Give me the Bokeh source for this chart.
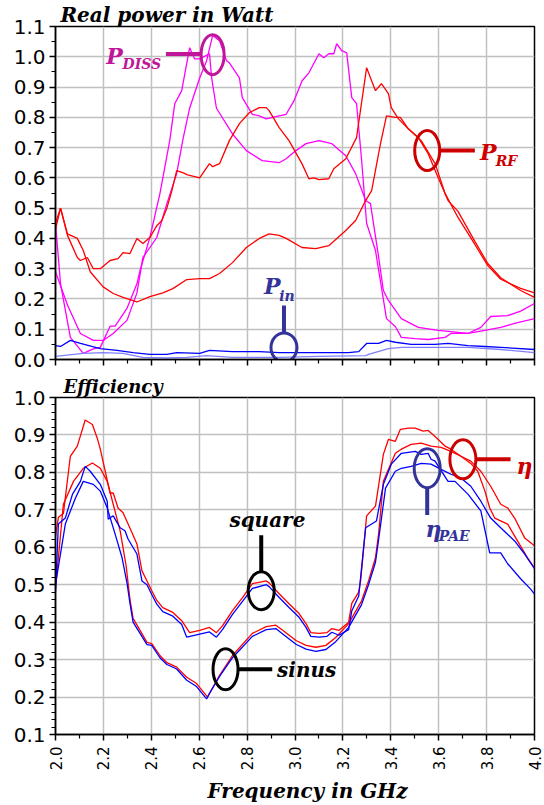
import math
from bokeh.plotting import figure
from bokeh.layouts import column
from bokeh.models import FixedTicker, Range1d, PrintfTickFormatter, Title
from bokeh.core.properties import value
from bokeh.embed import file_html
from bokeh.resources import INLINE

# ---------------- data: top panel (Real power in Watt) ----------------
pdiss_a_f = [2.000, 2.021, 2.062, 2.116, 2.158, 2.187, 2.228, 2.249, 2.299, 2.340, 2.353, 2.394, 2.436, 2.477, 2.498, 2.527, 2.560, 2.581, 2.602, 2.643, 2.652, 2.672, 2.739, 2.797, 2.863, 2.934, 2.963, 3.004, 3.046, 3.100, 3.154, 3.212, 3.253, 3.295, 3.315, 3.349, 3.369, 3.390, 3.444, 3.515, 3.598, 3.722, 3.793, 3.859, 3.917, 4.000]
pdiss_a = [0.45, 0.25, 0.073, 0.02, 0.035, 0.04, 0.11, 0.11, 0.17, 0.25, 0.294, 0.403, 0.548, 0.723, 0.845, 0.888, 1.03, 0.993, 0.993, 1.01, 0.93, 0.83, 0.745, 0.69, 0.657, 0.65, 0.663, 0.69, 0.713, 0.723, 0.713, 0.673, 0.614, 0.525, 0.515, 0.34, 0.228, 0.195, 0.135, 0.106, 0.096, 0.086, 0.096, 0.106, 0.119, 0.135]

pdiss_b_f = [2.000, 2.050, 2.104, 2.158, 2.199, 2.241, 2.299, 2.340, 2.365, 2.423, 2.465, 2.506, 2.531, 2.560, 2.602, 2.631, 2.656, 2.685, 2.714, 2.726, 2.768, 2.780, 2.822, 2.851, 2.880, 2.934, 2.963, 2.996, 3.029, 3.058, 3.100, 3.120, 3.141, 3.162, 3.174, 3.195, 3.216, 3.237, 3.257, 3.278, 3.299, 3.336, 3.382, 3.419, 3.444, 3.502, 3.556, 3.627, 3.651, 3.722, 3.776, 3.817, 3.888, 3.942, 4.000]
pdiss_b = [0.29, 0.18, 0.086, 0.063, 0.063, 0.086, 0.13, 0.22, 0.337, 0.403, 0.515, 0.614, 0.723, 0.83, 0.93, 0.987, 1.07, 1.053, 0.987, 0.98, 0.93, 0.865, 0.81, 0.805, 0.795, 0.805, 0.81, 0.855, 0.92, 0.947, 1.01, 0.997, 1.01, 1.01, 1.043, 1.02, 1.013, 0.865, 0.845, 0.66, 0.45, 0.36, 0.135, 0.109, 0.073, 0.069, 0.066, 0.073, 0.086, 0.086, 0.106, 0.142, 0.145, 0.16, 0.185]

prf_c_f = [2.000, 2.021, 2.050, 2.091, 2.116, 2.145, 2.199, 2.241, 2.282, 2.340, 2.394, 2.448, 2.490, 2.548, 2.602, 2.643, 2.685, 2.739, 2.797, 2.851, 2.892, 2.934, 2.963, 3.029, 3.087, 3.141, 3.212, 3.253, 3.295, 3.320, 3.357, 3.382, 3.419, 3.440, 3.473, 3.515, 3.556, 3.598, 3.639, 3.680, 3.751, 3.805, 3.859, 3.942, 4.000]
prf_c = [0.43, 0.50, 0.415, 0.40, 0.36, 0.29, 0.24, 0.218, 0.205, 0.19, 0.208, 0.22, 0.234, 0.264, 0.267, 0.267, 0.284, 0.32, 0.37, 0.40, 0.415, 0.41, 0.40, 0.37, 0.366, 0.376, 0.426, 0.459, 0.525, 0.558, 0.713, 0.805, 0.80, 0.80, 0.762, 0.733, 0.68, 0.60, 0.525, 0.49, 0.39, 0.317, 0.27, 0.228, 0.205]

prf_d_f = [2.000, 2.021, 2.050, 2.091, 2.104, 2.133, 2.158, 2.187, 2.228, 2.261, 2.282, 2.311, 2.340, 2.365, 2.394, 2.423, 2.444, 2.465, 2.486, 2.506, 2.531, 2.552, 2.602, 2.643, 2.656, 2.685, 2.726, 2.768, 2.809, 2.851, 2.880, 2.892, 2.934, 2.975, 3.029, 3.058, 3.079, 3.100, 3.141, 3.162, 3.212, 3.257, 3.299, 3.336, 3.361, 3.390, 3.402, 3.432, 3.473, 3.527, 3.585, 3.627, 3.680, 3.751, 3.805, 3.859, 3.942, 4.000]
prf_d = [0.45, 0.50, 0.41, 0.337, 0.327, 0.337, 0.30, 0.30, 0.327, 0.333, 0.353, 0.35, 0.40, 0.383, 0.403, 0.442, 0.459, 0.50, 0.558, 0.624, 0.617, 0.61, 0.60, 0.647, 0.637, 0.647, 0.723, 0.779, 0.815, 0.832, 0.832, 0.822, 0.766, 0.723, 0.647, 0.597, 0.60, 0.594, 0.597, 0.63, 0.663, 0.733, 0.964, 0.888, 0.911, 0.878, 0.832, 0.795, 0.762, 0.723, 0.647, 0.548, 0.47, 0.38, 0.31, 0.265, 0.235, 0.22]

pin_e_f = [2.000, 2.021, 2.062, 2.104, 2.187, 2.257, 2.324, 2.394, 2.465, 2.506, 2.602, 2.643, 2.739, 2.851, 2.934, 3.029, 3.224, 3.266, 3.299, 3.349, 3.382, 3.419, 3.485, 3.585, 3.639, 3.722, 3.793, 3.859, 4.000]
pin_e = [0.046, 0.043, 0.063, 0.053, 0.036, 0.03, 0.023, 0.017, 0.017, 0.023, 0.02, 0.03, 0.026, 0.026, 0.023, 0.023, 0.023, 0.026, 0.053, 0.053, 0.063, 0.057, 0.05, 0.05, 0.053, 0.046, 0.043, 0.04, 0.033]

pin_f_f = [2.000, 2.116, 2.199, 2.282, 2.365, 2.465, 2.548, 2.631, 2.739, 2.934, 3.100, 3.295, 3.307, 3.390, 3.444, 3.585, 3.722, 3.859, 4.000]
pin_f = [0.01, 0.02, 0.023, 0.02, 0.007, 0.005, 0.007, 0.013, 0.007, 0.007, 0.01, 0.013, 0.017, 0.036, 0.04, 0.04, 0.04, 0.033, 0.023]

# ---------------- data: bottom panel (Efficiency) ----------------
eta_sq_f = [2.000, 2.012, 2.033, 2.062, 2.091, 2.124, 2.154, 2.174, 2.187, 2.228, 2.241, 2.261, 2.282, 2.320, 2.340, 2.361, 2.382, 2.402, 2.423, 2.448, 2.490, 2.527, 2.560, 2.602, 2.643, 2.672, 2.697, 2.739, 2.780, 2.822, 2.880, 2.892, 2.934, 2.975, 3.017, 3.046, 3.066, 3.100, 3.133, 3.154, 3.183, 3.224, 3.237, 3.266, 3.274, 3.299, 3.336, 3.369, 3.390, 3.419, 3.440, 3.473, 3.502, 3.535, 3.556, 3.585, 3.627, 3.651, 3.693, 3.734, 3.776, 3.817, 3.859, 3.888, 3.917, 3.959, 4.000]
eta_sq = [0.63, 0.68, 0.69, 0.843, 0.87, 0.94, 0.928, 0.892, 0.862, 0.745, 0.745, 0.705, 0.692, 0.638, 0.609, 0.537, 0.51, 0.484, 0.458, 0.439, 0.426, 0.404, 0.372, 0.378, 0.386, 0.372, 0.39, 0.431, 0.465, 0.503, 0.51, 0.505, 0.476, 0.449, 0.423, 0.396, 0.372, 0.37, 0.372, 0.383, 0.378, 0.40, 0.45, 0.48, 0.51, 0.684, 0.71, 0.848, 0.888, 0.883, 0.915, 0.918, 0.918, 0.91, 0.912, 0.896, 0.87, 0.862, 0.843, 0.83, 0.803, 0.763, 0.715, 0.705, 0.678, 0.625, 0.604]

pae_sq_f = [2.000, 2.012, 2.041, 2.071, 2.104, 2.124, 2.145, 2.187, 2.216, 2.220, 2.241, 2.270, 2.290, 2.303, 2.340, 2.361, 2.382, 2.402, 2.423, 2.448, 2.490, 2.527, 2.548, 2.602, 2.643, 2.672, 2.697, 2.739, 2.780, 2.822, 2.880, 2.892, 2.934, 2.975, 3.017, 3.046, 3.066, 3.100, 3.133, 3.154, 3.183, 3.224, 3.237, 3.266, 3.295, 3.340, 3.369, 3.402, 3.444, 3.502, 3.527, 3.556, 3.568, 3.585, 3.639, 3.668, 3.722, 3.776, 3.813, 3.859, 3.888, 3.942, 3.983, 4.000]
pae_sq = [0.48, 0.662, 0.678, 0.742, 0.776, 0.816, 0.803, 0.768, 0.723, 0.675, 0.684, 0.652, 0.644, 0.622, 0.582, 0.51, 0.50, 0.474, 0.448, 0.428, 0.416, 0.394, 0.36, 0.368, 0.374, 0.36, 0.38, 0.421, 0.455, 0.49, 0.50, 0.495, 0.466, 0.439, 0.413, 0.386, 0.362, 0.36, 0.362, 0.373, 0.365, 0.38, 0.43, 0.47, 0.652, 0.67, 0.768, 0.822, 0.851, 0.856, 0.848, 0.851, 0.835, 0.83, 0.776, 0.776, 0.742, 0.697, 0.585, 0.585, 0.556, 0.516, 0.489, 0.475]

eta_sin_f = [2.000, 2.033, 2.075, 2.116, 2.154, 2.187, 2.216, 2.241, 2.270, 2.295, 2.311, 2.324, 2.353, 2.382, 2.402, 2.436, 2.465, 2.506, 2.548, 2.589, 2.635, 2.685, 2.739, 2.822, 2.880, 2.920, 2.946, 3.004, 3.046, 3.087, 3.129, 3.170, 3.224, 3.278, 3.307, 3.336, 3.349, 3.369, 3.419, 3.444, 3.485, 3.527, 3.568, 3.610, 3.651, 3.693, 3.734, 3.763, 3.793, 3.813, 3.834, 3.888, 3.929, 3.971, 4.000]
eta_sin = [0.49, 0.715, 0.776, 0.811, 0.825, 0.811, 0.776, 0.715, 0.644, 0.55, 0.46, 0.41, 0.378, 0.346, 0.343, 0.311, 0.292, 0.28, 0.253, 0.236, 0.20, 0.258, 0.311, 0.37, 0.388, 0.392, 0.38, 0.351, 0.338, 0.333, 0.338, 0.359, 0.396, 0.457, 0.51, 0.572, 0.635, 0.776, 0.851, 0.862, 0.875, 0.878, 0.87, 0.867, 0.856, 0.843, 0.824, 0.803, 0.75, 0.705, 0.678, 0.662, 0.617, 0.572, 0.545]

pae_sin_f = [2.000, 2.041, 2.083, 2.116, 2.158, 2.187, 2.216, 2.249, 2.278, 2.299, 2.311, 2.324, 2.353, 2.382, 2.402, 2.436, 2.465, 2.506, 2.548, 2.589, 2.631, 2.643, 2.685, 2.739, 2.822, 2.880, 2.920, 2.946, 3.004, 3.046, 3.087, 3.129, 3.170, 3.224, 3.278, 3.307, 3.336, 3.349, 3.378, 3.419, 3.444, 3.485, 3.527, 3.568, 3.610, 3.651, 3.693, 3.734, 3.776, 3.817, 3.859, 3.917, 3.959, 4.000]
pae_sin = [0.50, 0.662, 0.731, 0.776, 0.768, 0.75, 0.705, 0.635, 0.572, 0.503, 0.45, 0.40, 0.37, 0.34, 0.338, 0.305, 0.287, 0.275, 0.245, 0.228, 0.195, 0.21, 0.255, 0.305, 0.362, 0.38, 0.383, 0.37, 0.341, 0.328, 0.322, 0.327, 0.348, 0.386, 0.447, 0.50, 0.56, 0.62, 0.758, 0.803, 0.811, 0.816, 0.824, 0.822, 0.808, 0.795, 0.785, 0.763, 0.723, 0.678, 0.652, 0.617, 0.582, 0.543]

# ---------------- ticks ----------------
x_ticks = [2.0, 2.2, 2.4, 2.6, 2.8, 3.0, 3.2, 3.4, 3.6, 3.8, 4.0]
x_tick_labels = ["2.0", "2.2", "2.4", "2.6", "2.8", "3.0", "3.2", "3.4", "3.6", "3.8", "4.0"]
y_top_ticks = [0.0, 0.1, 0.2, 0.3, 0.4, 0.5, 0.6, 0.7, 0.8, 0.9, 1.0, 1.1]
y_bot_ticks = [0.1, 0.2, 0.3, 0.4, 0.5, 0.6, 0.7, 0.8, 0.9, 1.0]

RED = "#ff0000"
BLUE = "#0000ff"
MAG = "#ff00ff"
LBLUE = "#8080ff"
C_DISS = "#c0179a"
C_RF = "#cc0000"
C_IN = "#333399"
SERIF = "DejaVu Serif"
SANS = "DejaVu Sans"


def minor(ticks, n):
    step = ticks[1] - ticks[0]
    out = []
    for t in ticks[:-1]:
        for k in range(1, n):
            out.append(t + step * k / n)
    return out


def make_fig(height, yr, yticks, nminor, top, bottom, title, title_size, title_offset, title_standoff):
    p = figure(width=544, height=height, title=title,
               x_range=Range1d(2.0, 4.0), y_range=Range1d(*yr),
               output_backend="svg", toolbar_location=None,
               min_border_left=55, min_border_right=10,
               min_border_top=top, min_border_bottom=bottom)
    p.title.align = "left"
    p.title.offset = title_offset
    p.title.standoff = title_standoff
    p.title.text_font = SERIF
    p.title.text_font_style = "bold italic"
    p.title.text_font_size = title_size
    p.title.text_color = "black"
    p.background_fill_color = "white"
    p.border_fill_color = "white"
    p.outline_line_color = "black"
    p.outline_line_width = 1.5
    p.grid.grid_line_color = "#c0c0c0"
    p.grid.grid_line_width = 1.5
    p.xaxis.ticker = FixedTicker(ticks=x_ticks, minor_ticks=minor(x_ticks, 2))
    p.yaxis.ticker = FixedTicker(ticks=yticks, minor_ticks=minor(yticks, nminor))
    p.yaxis.formatter = PrintfTickFormatter(format="%.1f")
    for ax in (p.xaxis, p.yaxis):
        ax.axis_line_color = "black"
        ax.axis_line_width = 1.5
        ax.major_tick_line_color = "black"
        ax.major_tick_line_width = 1.5
        ax.minor_tick_line_color = "black"
        ax.minor_tick_line_width = 1.2
        ax.major_tick_in = 0
        ax.major_tick_out = 6
        ax.minor_tick_in = 0
        ax.minor_tick_out = 4
    p.yaxis.major_label_text_font = SANS
    p.yaxis.major_label_text_font_size = "20px"
    p.yaxis.major_label_text_color = "black"
    p.yaxis.major_label_standoff = 4
    return p


# ---------------- top figure ----------------
p1 = make_fig(372, (0.0, 1.1), y_top_ticks, 2, 26, 13, "Real power in Watt", "20px", 5, 0)
p1.xaxis.major_label_text_font_size = "1px"
p1.xaxis.major_label_text_color = None
p1.xaxis.major_label_standoff = 0

p1.line(pdiss_a_f, pdiss_a, line_color=MAG, line_width=1.3)
p1.line(pdiss_b_f, pdiss_b, line_color=MAG, line_width=1.3)
p1.line(prf_c_f, prf_c, line_color=RED, line_width=1.3)
p1.line(prf_d_f, prf_d, line_color=RED, line_width=1.3)
p1.line(pin_f_f, pin_f, line_color=LBLUE, line_width=1.3)
p1.line(pin_e_f, pin_e, line_color=BLUE, line_width=1.3)

# annotations (top)
p1.segment(x0=[2.461], y0=[1.009], x1=[2.610], y1=[1.009], line_color=C_DISS, line_width=4)
p1.ellipse(x=[2.656], y=[1.007], width=23, height=40, width_units="screen", height_units="screen",
           fill_color=None, line_color=C_DISS, line_width=3)
p1.text(x=[2.212], y=[1.003], text=["P"], text_font=value(SERIF), text_font_style="bold italic",
        text_font_size="22px", text_color=C_DISS, text_baseline="middle", text_align="left")
p1.text(x=[2.280], y=[0.977], text=["DISS"], text_font=value(SERIF), text_font_style="bold italic",
        text_font_size="14px", text_color=C_DISS, text_baseline="middle", text_align="left")

p1.segment(x0=[3.606], y0=[0.690], x1=[3.751], y1=[0.690], line_color=C_RF, line_width=4)
p1.ellipse(x=[3.552], y=[0.690], width=25, height=40, width_units="screen", height_units="screen",
           fill_color=None, line_color=C_RF, line_width=3)
p1.text(x=[3.772], y=[0.686], text=["P"], text_font=value(SERIF), text_font_style="bold italic",
        text_font_size="22px", text_color=C_RF, text_baseline="middle", text_align="left")
p1.text(x=[3.838], y=[0.656], text=["RF"], text_font=value(SERIF), text_font_style="bold italic",
        text_font_size="14px", text_color=C_RF, text_baseline="middle", text_align="left")

p1.segment(x0=[2.954], y0=[0.178], x1=[2.954], y1=[0.088], line_color=C_IN, line_width=4)
p1.ellipse(x=[2.954], y=[0.040], width=26, height=29, width_units="screen", height_units="screen",
           fill_color=None, line_color=C_IN, line_width=3)
p1.text(x=[2.871], y=[0.244], text=["P"], text_font=value(SERIF), text_font_style="bold italic",
        text_font_size="22px", text_color=C_IN, text_baseline="middle", text_align="left")
p1.text(x=[2.934], y=[0.211], text=["in"], text_font=value(SERIF), text_font_style="bold italic",
        text_font_size="14px", text_color=C_IN, text_baseline="middle", text_align="left")

# ---------------- bottom figure ----------------
p2 = make_fig(433, (0.1, 1.0), y_bot_ticks, 5, 24, 71, "Efficiency", "18px", 8, 2)
p2.xaxis.major_label_overrides = {t: s for t, s in zip(x_ticks, x_tick_labels)}
p2.xaxis.major_label_orientation = math.pi / 2
p2.xaxis.major_label_text_font = SANS
p2.xaxis.major_label_text_font_size = "15px"
p2.xaxis.major_label_text_color = "black"
p2.xaxis.major_label_standoff = 6

p2.line(eta_sq_f, eta_sq, line_color=RED, line_width=1.3)
p2.line(eta_sin_f, eta_sin, line_color=RED, line_width=1.3)
p2.line(pae_sq_f, pae_sq, line_color=BLUE, line_width=1.3)
p2.line(pae_sin_f, pae_sin, line_color=BLUE, line_width=1.3)

# annotations (bottom)
p2.segment(x0=[3.755], y0=[0.835], x1=[3.900], y1=[0.835], line_color=C_RF, line_width=4)
p2.ellipse(x=[3.701], y=[0.835], width=26, height=39, width_units="screen", height_units="screen",
           fill_color=None, line_color=C_RF, line_width=3)
p2.text(x=[3.925], y=[0.818], text=["η"], text_font=value(SERIF), text_font_style="bold italic",
        text_font_size="22px", text_color=C_RF, text_baseline="middle", text_align="left")

p2.segment(x0=[3.552], y0=[0.761], x1=[3.552], y1=[0.686], line_color=C_IN, line_width=4)
p2.ellipse(x=[3.552], y=[0.811], width=26, height=39, width_units="screen", height_units="screen",
           fill_color=None, line_color=C_IN, line_width=3)
p2.text(x=[3.545], y=[0.650], text=["η"], text_font=value(SERIF), text_font_style="bold italic",
        text_font_size="22px", text_color=C_IN, text_baseline="middle", text_align="left")
p2.text(x=[3.600], y=[0.630], text=["PAE"], text_font=value(SERIF), text_font_style="bold italic",
        text_font_size="14px", text_color=C_IN, text_baseline="middle", text_align="left")

p2.segment(x0=[2.859], y0=[0.632], x1=[2.859], y1=[0.535], line_color="black", line_width=4)
p2.ellipse(x=[2.859], y=[0.484], width=26, height=38, width_units="screen", height_units="screen",
           fill_color=None, line_color="black", line_width=3)
p2.text(x=[2.726], y=[0.673], text=["square"], text_font=value(SERIF), text_font_style="bold italic",
        text_font_size="20px", text_color="black", text_baseline="middle", text_align="left")

p2.segment(x0=[2.763], y0=[0.274], x1=[2.905], y1=[0.274], line_color="black", line_width=4)
p2.ellipse(x=[2.710], y=[0.274], width=25, height=41, width_units="screen", height_units="screen",
           fill_color=None, line_color="black", line_width=3)
p2.text(x=[2.925], y=[0.271], text=["sinus"], text_font=value(SERIF), text_font_style="bold italic",
        text_font_size="20px", text_color="black", text_baseline="middle", text_align="left")

p2.add_layout(Title(text="Frequency in GHz", align="left", offset=152, standoff=6,
                    text_font=SERIF, text_font_style="bold italic", text_font_size="20px",
                    text_color="black"), "below")

layout = column(p1, p2)
open("out.html", "w").write(file_html(layout, INLINE))
